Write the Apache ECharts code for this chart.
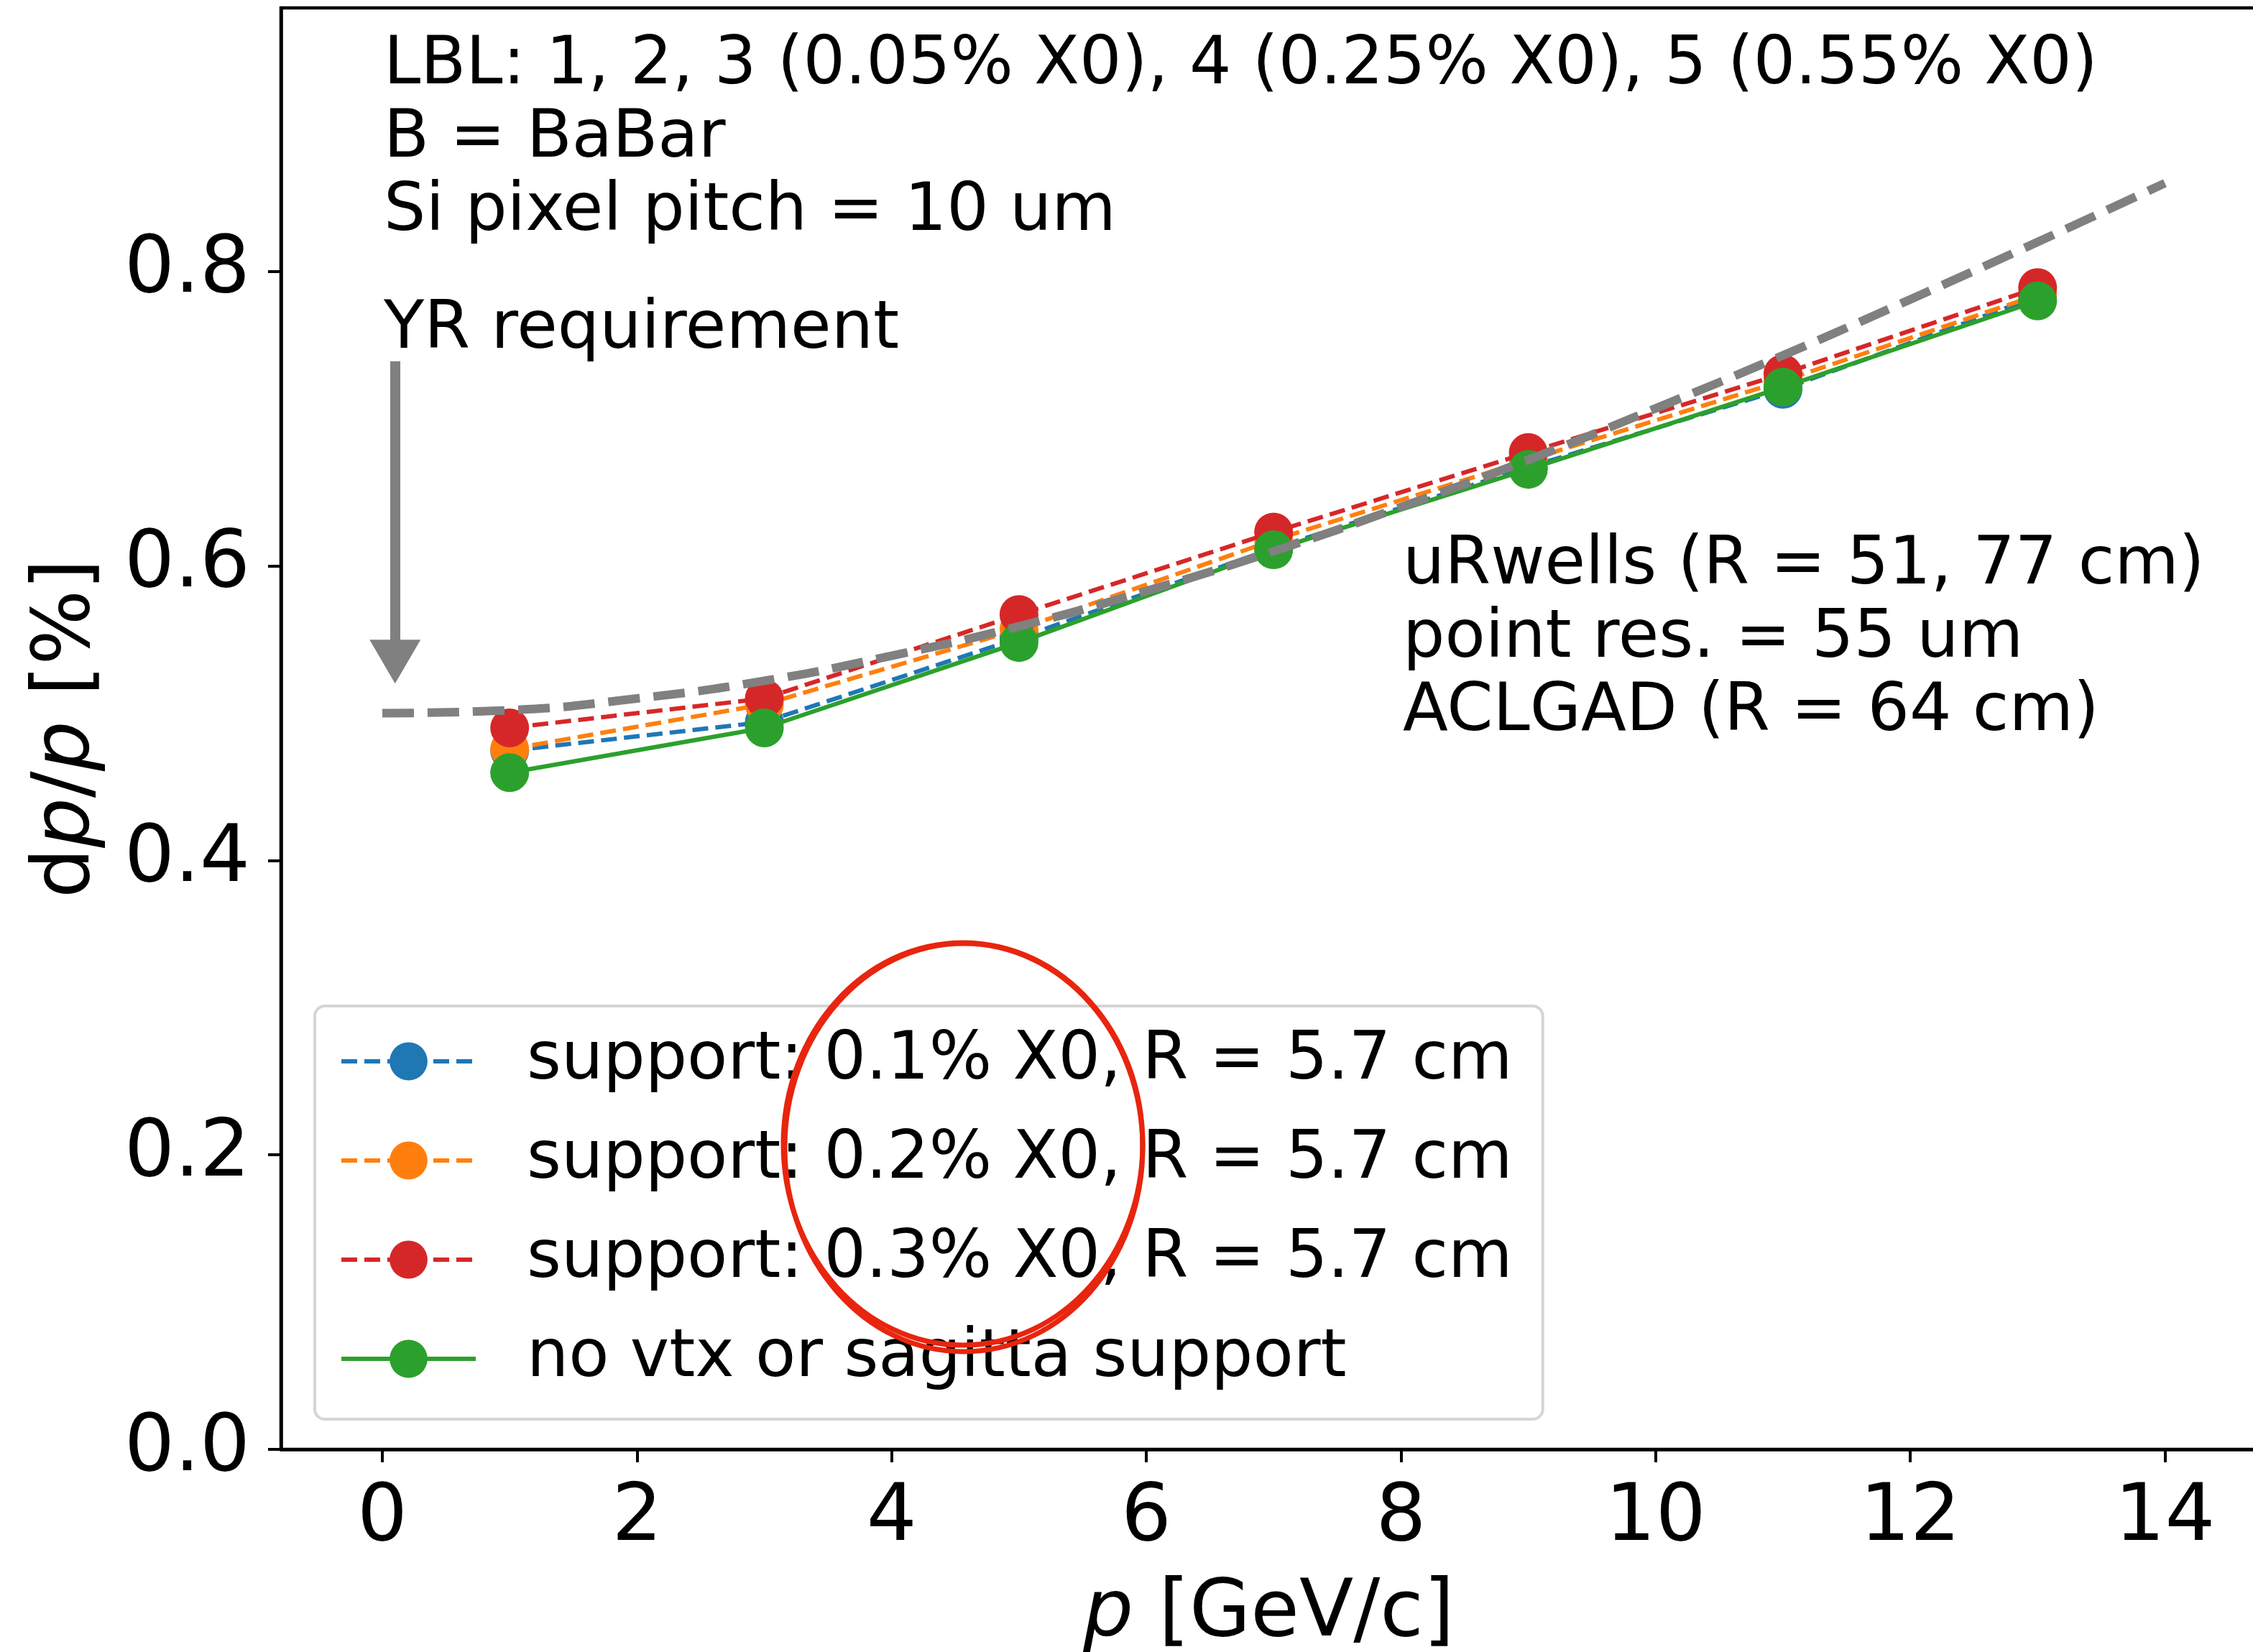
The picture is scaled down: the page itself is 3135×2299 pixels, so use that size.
<!DOCTYPE html>
<html><head><meta charset="utf-8">
<script src="https://cdn.jsdelivr.net/npm/echarts@6/dist/echarts.min.js"></script>
<style>html,body{margin:0;padding:0;background:#fff}#c{width:3135px;height:2299px}</style>
</head><body><div id="c"></div>
<script>
// ---- data ----
const momentum = [1, 3, 5, 7, 9, 11, 13];
const support01 = [0.4745, 0.494, 0.551, 0.612, 0.667, 0.720, 0.783];
const support02 = [0.4756, 0.506, 0.557, 0.6175, 0.672, 0.7257, 0.784];
const support03 = [0.490, 0.510, 0.567, 0.623, 0.677, 0.7305, 0.789];
const noSupport = [0.4596, 0.490, 0.548, 0.611, 0.6656, 0.7214, 0.780];
const yrP   = [0, 1, 2, 3, 4, 5, 6, 7, 8, 9, 10, 11, 12, 13, 14];
const yrReq = [0.500, 0.502, 0.510, 0.522, 0.539, 0.559, 0.583, 0.610, 0.640, 0.672, 0.707, 0.743, 0.781, 0.820, 0.860];
const xTicks = [0, 2, 4, 6, 8, 10, 12, 14];
const yTicks = [0.0, 0.2, 0.4, 0.6, 0.8];
const seriesNames = [
  'support: 0.1% X0, R = 5.7 cm',
  'support: 0.2% X0, R = 5.7 cm',
  'support: 0.3% X0, R = 5.7 cm',
  'no vtx or sagitta support'
];
const arrowX = 0.1, arrowStart = 0.739, arrowHeadCenter = 0.535;
const textTopLeft = ['LBL: 1, 2, 3 (0.05% X0), 4 (0.25% X0), 5 (0.55% X0)', 'B = BaBar', 'Si pixel pitch = 10 um'];
const textYR = 'YR requirement';
const textRight = ['uRwells (R = 51, 77 cm)', 'point res. = 55 um', 'ACLGAD (R = 64 cm)'];

// ---- styles ----
const FONT = 'DejaVu Sans';
const colors = ['#1f77b4', '#ff7f0e', '#d62728', '#2ca02c'];
const dashed = [22, 10];
const lineTypes = [dashed, dashed, dashed, 'solid'];
const seriesData = [support01, support02, support03, noSupport];

const chart = echarts.init(document.getElementById('c'), null, {renderer: 'canvas'});

const series = seriesData.map((vals, i) => ({
  name: seriesNames[i],
  type: 'line',
  data: momentum.map((p, k) => [p, vals[k]]),
  symbol: 'circle',
  symbolSize: 54,
  z: 2 + i,
  itemStyle: {color: colors[i], borderWidth: 0},
  lineStyle: {color: colors[i], width: 6, type: lineTypes[i], cap: 'butt'},
  emphasis: {disabled: true},
  silent: true
}));

series.push({
  name: 'YR requirement',
  type: 'line',
  data: yrP.map((p, k) => [p, yrReq[k]]),
  smooth: true,
  showSymbol: false,
  symbol: 'none',
  z: 7,
  lineStyle: {color: '#808080', width: 12, type: [44, 19], cap: 'butt'},
  silent: true,
  markLine: {
    silent: true,
    symbol: ['none', 'triangle'],
    symbolSize: [71, 61],
    label: {show: false},
    lineStyle: {color: '#808080', width: 14, type: 'solid'},
    itemStyle: {color: '#808080'},
    emphasis: {disabled: true},
    data: [[{coord: [arrowX, arrowStart]}, {coord: [arrowX, arrowHeadCenter]}]]
  }
});

const textStyle = (t, x, y) => ({
  type: 'text', x: x, y: y, z: 30,
  style: {text: t, fontSize: 92, fontFamily: FONT, fill: '#000', align: 'left', verticalAlign: 'middle'}
});

const graphics = [];
textTopLeft.forEach((t, i) => graphics.push(textStyle(t, 534, 92 + i * 102)));
graphics.push(textStyle(textYR, 534, 460));
textRight.forEach((t, i) => graphics.push(textStyle(t, 1952, 788 + i * 102)));
graphics.push({type: 'ellipse', z: 40, silent: true,
  shape: {cx: 1340, cy: 1592, rx: 250, ry: 280},
  style: {fill: 'none', stroke: '#e8250f', lineWidth: 7}});
graphics.push({type: 'ellipse', z: 40, silent: true,
  shape: {cx: 1341, cy: 1597, rx: 249, ry: 284},
  style: {fill: 'none', stroke: '#e8250f', lineWidth: 7}});

chart.setOption({
  animation: false,
  backgroundColor: '#fff',
  grid: {left: 391, top: 11, right: -5, bottom: 282, containLabel: false, outerBoundsMode: 'none',
    show: true, borderColor: '#000', borderWidth: 4.5, backgroundColor: 'transparent'},
  xAxis: {
    type: 'value', min: -0.796, max: 14.72,
    axisLine: {show: true, onZero: false, lineStyle: {color: '#000', width: 4.5}},
    axisTick: {show: true, inside: false, length: 18, customValues: xTicks, lineStyle: {color: '#000', width: 4}},
    axisLabel: {show: true, customValues: xTicks, margin: 42, fontSize: 110, fontFamily: FONT, color: '#000'},
    splitLine: {show: false},
    name: '{i|p} [GeV/c]', nameLocation: 'middle', nameGap: 175,
    nameTextStyle: {fontSize: 110, fontFamily: FONT, color: '#000',
      rich: {i: {fontStyle: 'italic', fontSize: 110, fontFamily: FONT, color: '#000'}}}
  },
  yAxis: {
    type: 'value', min: 0, max: 0.979,
    axisLine: {show: true, onZero: false, lineStyle: {color: '#000', width: 4.5}},
    axisTick: {show: true, inside: false, length: 18, customValues: yTicks, lineStyle: {color: '#000', width: 4}},
    axisLabel: {show: true, customValues: yTicks, margin: 43, fontSize: 110, fontFamily: FONT, color: '#000',
      formatter: v => v.toFixed(1)},
    splitLine: {show: false},
    name: 'd{i|p}/{i|p} [%]', nameLocation: 'middle', nameGap: 242,
    nameTextStyle: {fontSize: 110, fontFamily: FONT, color: '#000',
      rich: {i: {fontStyle: 'italic', fontSize: 110, fontFamily: FONT, color: '#000'}}}
  },
  legend: {
    data: seriesNames.map((n, i) => ({name: n, lineStyle: {type: lineTypes[i], width: 6, color: colors[i]}})),
    orient: 'vertical', left: 438, top: 1400,
    padding: [31, 42, 38, 34],
    itemWidth: 187, itemHeight: 66, itemGap: 46,
    backgroundColor: 'rgba(255,255,255,0.8)',
    borderColor: '#d5d5d5', borderWidth: 4, borderRadius: 14,
    lineStyle: {width: 6},
    textStyle: {fontSize: 92, fontFamily: FONT, color: '#000', lineHeight: 66, padding: [0, 0, 0, 66]},
    selectedMode: false,
    z: 10
  },
  graphic: graphics,
  series: series
});
</script></body></html>
